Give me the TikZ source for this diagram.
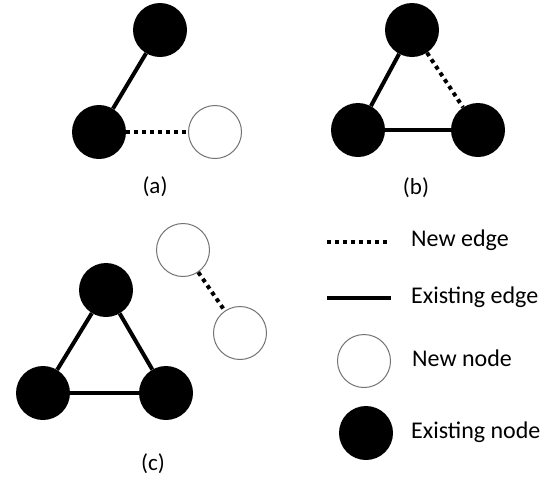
\documentclass[tikz,border=0pt]{standalone}
\usepackage{fontspec}
\setmainfont{Carlito}
\begin{document}
\begin{tikzpicture}[x=1pt,y=-1pt,
  oldnode/.style={circle,fill=black,draw=none,minimum size=54pt,inner sep=0pt},
  newnode/.style={circle,fill=white,draw=black!55,line width=1pt,minimum size=53pt,inner sep=0pt},
  oldedge/.style={line width=4pt},
  newedge/.style={line width=4pt,dash pattern=on 4pt off 4pt},
  lbl/.style={font=\fontsize{24}{28}\selectfont,anchor=base west,inner sep=0pt},
  sublabel/.style={font=\fontsize{23}{28}\selectfont,anchor=base,inner sep=0pt}]
\useasboundingbox (0,0) rectangle (551,480);
% (a)
\node[oldnode] (a1) at (160,30) {};
\node[oldnode] (a2) at (99,132) {};
\node[newnode] (a3) at (215,132) {};
\draw[oldedge] (a1) -- (a2);
\draw[newedge] (a2) -- (a3);
\node[sublabel] (la) at (155,193) {(a)};
% (b)
\node[oldnode] (b1) at (412,30) {};
\node[oldnode] (b2) at (358,130) {};
\node[oldnode] (b3) at (478,130) {};
\draw[oldedge] (b1) -- (b2);
\draw[oldedge] (b2) -- (b3);
\draw[newedge] (b1) -- (b3);
\node[sublabel] (lb) at (416,194) {(b)};
% (c)
\node[oldnode] (c1) at (106,290) {};
\node[oldnode] (c2) at (43,393) {};
\node[oldnode] (c3) at (166,393) {};
\draw[oldedge] (c1) -- (c2);
\draw[oldedge] (c2) -- (c3);
\draw[oldedge] (c3) -- (c1);
\node[newnode] (c4) at (183,250) {};
\node[newnode] (c5) at (240,333) {};
\draw[newedge] (c4) -- (c5);
\node[sublabel] (lc) at (153,470) {(c)};
% legend
\coordinate (d1) at (327,242);
\coordinate (d2) at (389,242);
\draw[newedge] (d1) -- (d2);
\node[lbl] (t1) at (411,246) {New edge};
\coordinate (s1) at (327,298);
\coordinate (s2) at (391,298);
\draw[oldedge] (s1) -- (s2);
\node[lbl] (t2) at (411,303) {Existing edge};
\node[newnode] (ln) at (364,361) {};
\node[lbl] (t3) at (412,366) {New node};
\node[oldnode] (lo) at (366,433) {};
\node[lbl] (t4) at (411,438) {Existing node};
\end{tikzpicture}
\end{document}
